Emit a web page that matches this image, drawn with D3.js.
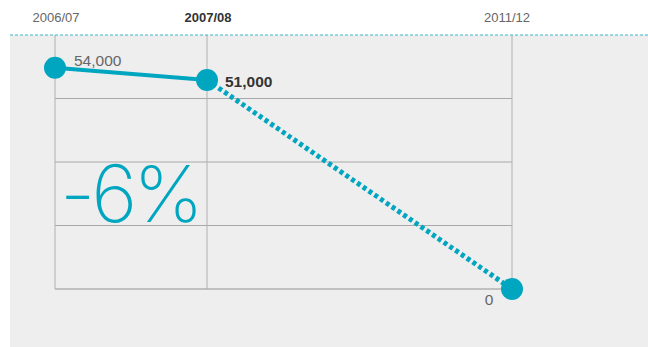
<!DOCTYPE html>
<html>
<head>
<meta charset="utf-8">
<script src="https://cdn.jsdelivr.net/npm/d3@7"></script>
<style>
  html, body { margin: 0; padding: 0; background: #fff; }
  svg { display: block; font-family: "Liberation Sans", Arial, sans-serif; }
</style>
</head>
<body>
<svg id="chart" width="648" height="347"></svg>
<script>
// Period labels and their start years (used for horizontal placement)
const periods = ["2006/07", "2007/08", "2011/12"];
const periodYears = [2006, 2007, 2011];
const values = [54000, 51000, 0];
const valueLabels = ["54,000", "51,000", "0"];
const changeLabel = "-6%";
const gridTicks = [15500, 31000, 46500];

const W = 648, H = 347;
const teal = "#00a6c0";
const svg = d3.select("#chart");

const x = d3.scaleLinear().domain(periodYears).range([55, 207, 512]);
const y = d3.scaleLinear().domain([0, 62000]).range([289, 35]);

// panel background
svg.append("rect").attr("x", 10).attr("y", y(62000)).attr("width", W - 10).attr("height", H - y(62000))
  .attr("fill", "#eeeeee");

// horizontal gridlines
svg.append("g").selectAll("line").data(gridTicks).join("line")
  .attr("x1", x(2006)).attr("x2", x(2011))
  .attr("y1", d => y(d)).attr("y2", d => y(d))
  .attr("stroke", "#a8a8a8").attr("stroke-width", 1);

// vertical gridlines per period
svg.append("g").selectAll("line").data(periodYears).join("line")
  .attr("x1", d => x(d)).attr("x2", d => x(d))
  .attr("y1", y(62000)).attr("y2", y(0))
  .attr("stroke", "#b0b0b0").attr("stroke-width", 1);

// baseline
svg.append("line").attr("x1", x(2006)).attr("x2", x(2011)).attr("y1", y(0)).attr("y2", y(0))
  .attr("stroke", "#b0b0b0").attr("stroke-width", 1.5);

// dashed top rule
svg.append("line").attr("x1", 10).attr("x2", W).attr("y1", y(62000)).attr("y2", y(62000))
  .attr("stroke", "#3bb6cc").attr("stroke-width", 1).attr("stroke-dasharray", "3,2");

// period labels
svg.append("g").selectAll("text").data(periods).join("text")
  .attr("x", (d, i) => x(periodYears[i]) + (i === 2 ? -5 : 1))
  .attr("y", 22)
  .attr("text-anchor", "middle")
  .attr("font-size", 13)
  .attr("font-weight", (d, i) => i === 1 ? "bold" : "normal")
  .attr("fill", (d, i) => i === 1 ? "#333" : "#666")
  .text(d => d);

const pts = periodYears.map((yr, i) => ({ yr, v: values[i] }));
const line = d3.line().x(d => x(d.yr)).y(d => y(d.v));

// actual segment
svg.append("path").datum(pts.slice(0, 2)).attr("d", line)
  .attr("fill", "none").attr("stroke", teal).attr("stroke-width", 4);

// projected segment
svg.append("path").datum(pts.slice(1, 3)).attr("d", line)
  .attr("fill", "none").attr("stroke", teal).attr("stroke-width", 5)
  .attr("stroke-dasharray", "4,3");

// points
svg.append("g").selectAll("circle").data(pts).join("circle")
  .attr("cx", d => x(d.yr)).attr("cy", d => y(d.v)).attr("r", 11)
  .attr("fill", teal);

// value labels
svg.append("text").attr("x", x(2006) + 19).attr("y", y(values[0]) - 2)
  .attr("font-size", 15.5).attr("fill", "#666").text(valueLabels[0]);
svg.append("text").attr("x", x(2007) + 18).attr("y", y(values[1]) + 7)
  .attr("font-size", 15.5).attr("font-weight", "bold").attr("fill", "#333").text(valueLabels[1]);
svg.append("text").attr("x", x(2011) - 23).attr("y", y(values[2]) + 16)
  .attr("text-anchor", "middle")
  .attr("font-size", 15.5).attr("fill", "#666").text(valueLabels[2]);

// percentage change
svg.append("text").attr("x", 60).attr("y", 222)
  .style("font-family", "Inter, sans-serif")
  .style("font-weight", 200)
  .attr("letter-spacing", -4)
  .attr("font-size", 79).attr("fill", teal).text(changeLabel);
</script>
</body>
</html>
